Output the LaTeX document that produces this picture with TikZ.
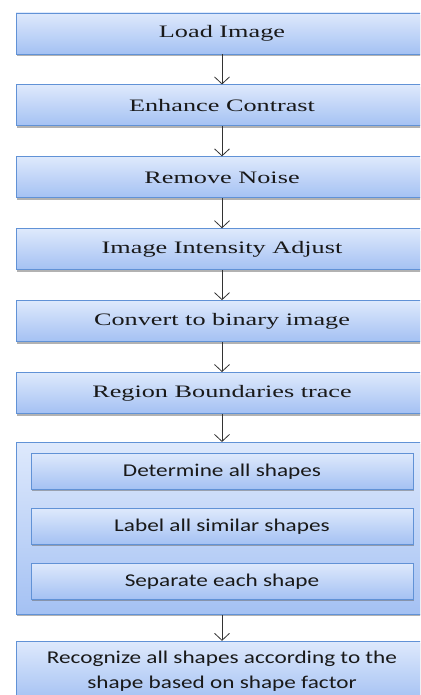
\documentclass[tikz,border=0pt]{standalone}
\usepackage{fontspec}
\newfontfamily\stepfont[FakeStretch=1.5]{Liberation Serif}
\newfontfamily\subfont[FakeStretch=1.29]{Carlito}
\usetikzlibrary{arrows.meta, positioning, shadows}

\definecolor{boxtop}{HTML}{DEE9FC}
\definecolor{boxbottom}{HTML}{A4C1F3}
\definecolor{boxline}{HTML}{6192D6}

\begin{document}
\begin{tikzpicture}[
    node distance=30pt,
    stepbox/.style={rectangle, draw=boxline, line width=0.9pt, top color=boxtop, bottom color=boxbottom, minimum width=412pt, minimum height=41pt, font=\stepfont\fontsize{17.5}{21}\selectfont, text=black!90, drop shadow={shadow xshift=0.5pt, shadow yshift=-2pt, fill=black!60, opacity=0.5}},
    groupbox/.style={stepbox, minimum height=172pt},
    subbox/.style={stepbox, minimum width=382pt, minimum height=36pt, font=\subfont\fontsize{18}{22}\selectfont},
    lastbox/.style={stepbox, minimum height=60pt, align=center, font=\subfont\fontsize{18}{25}\selectfont},
    arrow/.style={line width=0.8pt, draw=black!80, -{Straight Barb[length=7pt, width=15pt]}}
]
\useasboundingbox (0,0) rectangle (420pt,-695pt);
\clip (0,0) rectangle (420pt,-695pt);

% Main steps
\node (load) [stepbox] at (222pt,-33.5pt) {Load Image};
\node (contrast) [stepbox, below=of load] {Enhance Contrast};
\node (noise) [stepbox, below=of contrast] {Remove Noise};
\node (intensity) [stepbox, below=of noise] {Image Intensity Adjust};
\node (binary) [stepbox, below=of intensity] {Convert to binary image};
\node (trace) [stepbox, below=of binary] {Region Boundaries trace};

% Shape group
\node (shapes) [groupbox, below=28pt of trace] {};
\node (determine) [subbox, below=11pt of shapes.north] {Determine all shapes};
\node (labelall) [subbox, below=18pt of determine] {Label all similar shapes};
\node (separate) [subbox, below=18pt of labelall] {Separate each shape};

\node (recognize) [lastbox, below=26pt of shapes] {Recognize all shapes according to the\\shape based on shape factor};

% Connect steps
\draw [arrow] (load) -- (contrast);
\draw [arrow] (contrast) -- (noise);
\draw [arrow] (noise) -- (intensity);
\draw [arrow] (intensity) -- (binary);
\draw [arrow] (binary) -- (trace);
\draw [arrow] (trace) -- (shapes);
\draw [arrow] (shapes) -- (recognize);

\end{tikzpicture}
\end{document}
